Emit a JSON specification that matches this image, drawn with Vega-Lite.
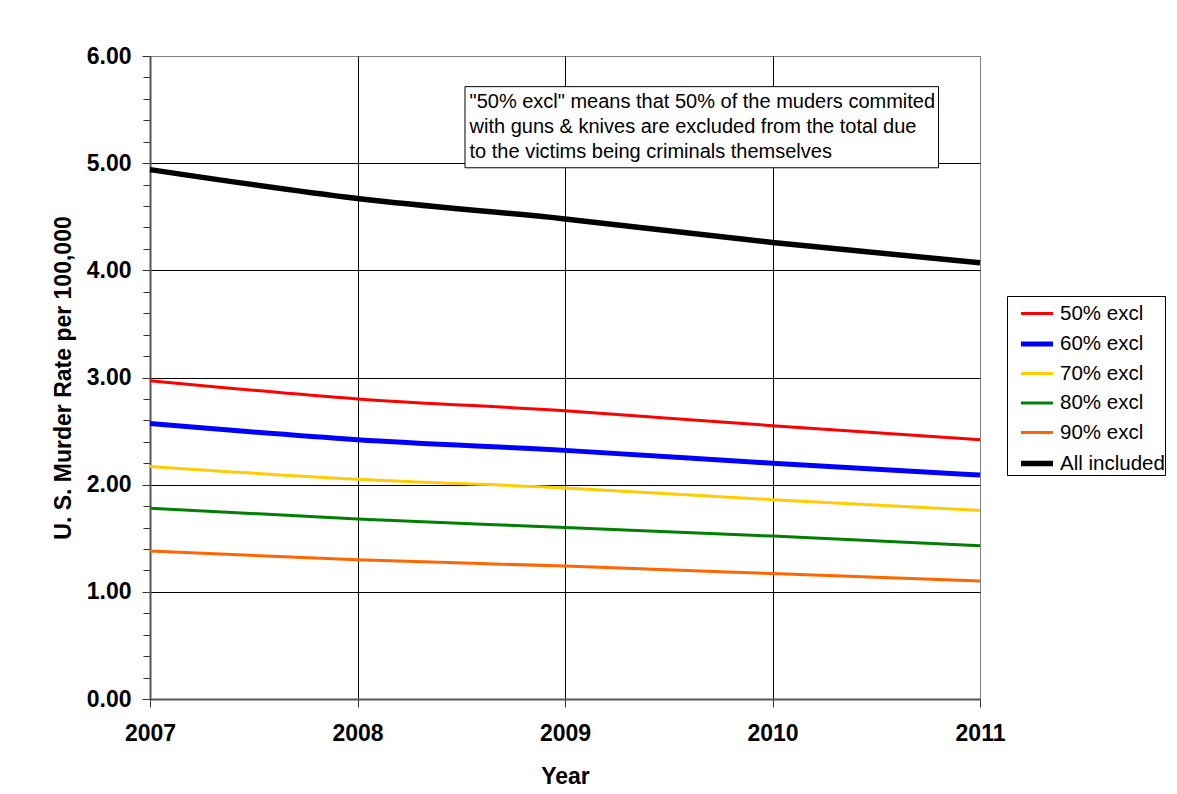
{
  "$schema": "https://vega.github.io/schema/vega-lite/v6.json",
  "autosize": "none",
  "width": 830,
  "height": 643,
  "padding": {"left": 150, "top": 56, "right": 197, "bottom": 95},
  "background": "white",
  "config": {
    "font": "Liberation Sans",
    "view": {"stroke": "#808080", "strokeWidth": 1},
    "axis": {
      "labelFont": "Liberation Sans",
      "titleFont": "Liberation Sans",
      "labelFontWeight": "bold",
      "titleFontWeight": "bold",
      "labelColor": "black",
      "titleColor": "black",
      "labelFontSize": 23,
      "titleFontSize": 23,
      "gridColor": "black",
      "gridWidth": 1,
      "domainColor": "#555555",
      "domainWidth": 2,
      "tickColor": "#333333",
      "tickWidth": 1,
      "tickSize": 8
    }
  },
  "datasets": {
    "rates": [
      {"year": 2007, "series": "50% excl", "value": 2.97},
      {"year": 2008, "series": "50% excl", "value": 2.80},
      {"year": 2009, "series": "50% excl", "value": 2.69},
      {"year": 2010, "series": "50% excl", "value": 2.55},
      {"year": 2011, "series": "50% excl", "value": 2.42},
      {"year": 2007, "series": "60% excl", "value": 2.57},
      {"year": 2008, "series": "60% excl", "value": 2.42},
      {"year": 2009, "series": "60% excl", "value": 2.32},
      {"year": 2010, "series": "60% excl", "value": 2.20},
      {"year": 2011, "series": "60% excl", "value": 2.09},
      {"year": 2007, "series": "70% excl", "value": 2.17},
      {"year": 2008, "series": "70% excl", "value": 2.05},
      {"year": 2009, "series": "70% excl", "value": 1.97},
      {"year": 2010, "series": "70% excl", "value": 1.86},
      {"year": 2011, "series": "70% excl", "value": 1.76},
      {"year": 2007, "series": "80% excl", "value": 1.78},
      {"year": 2008, "series": "80% excl", "value": 1.68},
      {"year": 2009, "series": "80% excl", "value": 1.60},
      {"year": 2010, "series": "80% excl", "value": 1.52},
      {"year": 2011, "series": "80% excl", "value": 1.43},
      {"year": 2007, "series": "90% excl", "value": 1.38},
      {"year": 2008, "series": "90% excl", "value": 1.30},
      {"year": 2009, "series": "90% excl", "value": 1.24},
      {"year": 2010, "series": "90% excl", "value": 1.17},
      {"year": 2011, "series": "90% excl", "value": 1.10},
      {"year": 2007, "series": "All included", "value": 4.94},
      {"year": 2008, "series": "All included", "value": 4.67},
      {"year": 2009, "series": "All included", "value": 4.48},
      {"year": 2010, "series": "All included", "value": 4.26},
      {"year": 2011, "series": "All included", "value": 4.07}
    ],
    "note": [
      {"x1": 2008.518, "x2": 2010.80, "y1": 5.714, "y2": 4.957, "tx": 2008.54, "ty": 5.665,
       "label": "\"50% excl\" means that 50% of the muders commited\nwith guns & knives are excluded from the total due\nto the victims being criminals themselves"}
    ]
  },
  "layer": [
    {
      "data": {"name": "rates"},
      "mark": {"type": "line", "interpolate": "monotone"},
      "encoding": {
        "x": {
          "field": "year", "type": "quantitative", "title": "Year",
          "scale": {"domain": [2007, 2011], "nice": false, "zero": false},
          "axis": {
            "values": [2007, 2008, 2009, 2010, 2011], "format": "d", "tickCount": 100,
            "labelPadding": 15, "titlePadding": 20, "labelFlush": false,
            "gridOpacity": {"condition": {"test": "datum.value == 2011", "value": 0}, "value": 1}
          }
        },
        "y": {
          "field": "value", "type": "quantitative", "title": "U. S. Murder Rate per 100,000",
          "scale": {"domain": [0, 6], "nice": false},
          "axis": {
            "values": [0, 0.2, 0.4, 0.6, 0.8, 1, 1.2, 1.4, 1.6, 1.8, 2, 2.2, 2.4, 2.6, 2.8, 3, 3.2, 3.4, 3.6, 3.8, 4, 4.2, 4.4, 4.6, 4.8, 5, 5.2, 5.4, 5.6, 5.8, 6],
            "tickCount": 100,
            "labelExpr": "datum.value % 1 == 0 ? format(datum.value, '.2f') : ''",
            "gridOpacity": {"condition": {"test": "datum.value % 1 != 0 || datum.value == 6", "value": 0}, "value": 1},
            "tickSize": {"condition": {"test": "datum.value % 1 != 0", "value": 7}, "value": 8},
            "labelPadding": 11, "titlePadding": 11, "labelOverlap": false
          }
        },
        "color": {
          "field": "series", "type": "nominal",
          "scale": {
            "domain": ["50% excl", "60% excl", "70% excl", "80% excl", "90% excl", "All included"],
            "range": ["#FF0000", "#0000FF", "#FFCC00", "#008000", "#FF6600", "#000000"]
          },
          "legend": {
            "title": null, "orient": "none", "legendX": 857, "legendY": 240,
            "strokeColor": "black", "fillColor": "white", "padding": 0,
            "labelFont": "Liberation Sans", "labelFontSize": 20.5, "labelColor": "black",
            "symbolType": "stroke", "symbolSize": 1024, "symbolOffset": 11, "labelOffset": 4, "rowPadding": 1.5
          }
        },
        "strokeWidth": {
          "field": "series", "type": "nominal",
          "scale": {
            "type": "ordinal",
            "domain": ["50% excl", "60% excl", "70% excl", "80% excl", "90% excl", "All included"],
            "range": [3, 5, 3, 3, 3, 5.5]
          },
          "legend": {
            "title": null, "orient": "none", "legendX": 857, "legendY": 240,
            "strokeColor": "black", "fillColor": "white", "padding": 0,
            "labelFont": "Liberation Sans", "labelFontSize": 20.5, "labelColor": "black",
            "symbolType": "stroke", "symbolSize": 1024, "symbolOffset": 11, "labelOffset": 4, "rowPadding": 1.5
          }
        }
      }
    },
    {
      "data": {"name": "note"},
      "mark": {"type": "rect", "fill": "white", "stroke": "black", "strokeWidth": 1},
      "encoding": {
        "x": {"field": "x1", "type": "quantitative", "title": "Year"},
        "x2": {"field": "x2"},
        "y": {"field": "y1", "type": "quantitative", "title": "U. S. Murder Rate per 100,000"},
        "y2": {"field": "y2"}
      }
    },
    {
      "data": {"name": "note"},
      "mark": {"type": "text", "align": "left", "baseline": "top", "lineBreak": "\n", "lineHeight": 25, "fontSize": 20, "font": "Liberation Sans", "color": "black"},
      "encoding": {
        "x": {"field": "tx", "type": "quantitative", "title": "Year"},
        "y": {"field": "ty", "type": "quantitative", "title": "U. S. Murder Rate per 100,000"},
        "text": {"field": "label", "type": "nominal"}
      }
    }
  ]
}
